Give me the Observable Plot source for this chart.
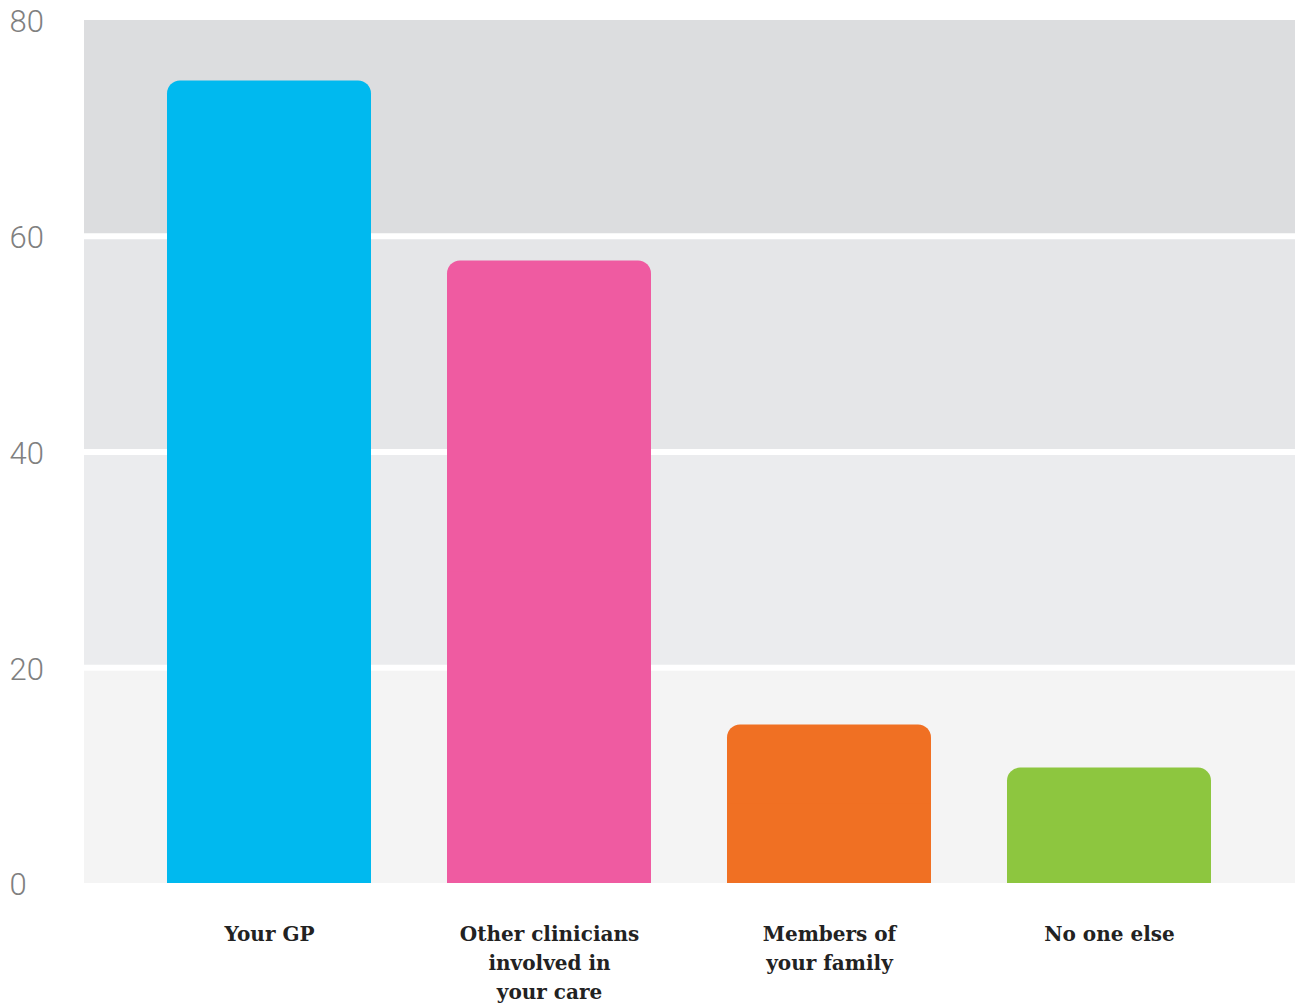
<!DOCTYPE html>
<html>
<head>
<meta charset="utf-8">
<script src="https://cdn.jsdelivr.net/npm/d3@7"></script>
<script src="https://cdn.jsdelivr.net/npm/@observablehq/plot@0.6"></script>
<style>
  html, body { margin: 0; padding: 0; background: #fff; }
</style>
</head>
<body>
<div id="chart"></div>
<script>
const categories = ["Your GP", "Other clinicians\ninvolved in\nyour care", "Members of\nyour family", "No one else"];
const values = [74.4, 57.7, 14.7, 10.7];
const barColors = ["#00b9ef", "#ef5ba1", "#f07023", "#8dc63f"];
const yTicks = [0, 20, 40, 60, 80];
const bandLows = [0, 20, 40, 60];
const bandHighs = [20, 40, 60, 80];
const bandColors = ["#f4f4f4", "#ebecee", "#e5e6e8", "#dcdddf"];

const bars = categories.map((c, i) => ({cat: c, value: values[i], color: barColors[i]}));
const bands = bandLows.map((lo, i) => ({lo, hi: bandHighs[i], color: bandColors[i]}));

const chart = Plot.plot({
  width: 1295,
  height: 1005,
  marginLeft: 84,
  marginRight: 0,
  marginTop: 20,
  marginBottom: 122,
  style: {background: "#fff", overflow: "visible"},
  x: {domain: categories, paddingInner: 0.271, paddingOuter: 0.295, range: [83.3, 1294.8], axis: null},
  y: {domain: [0, 80], axis: null},
  marks: [
    Plot.rect(bands, {y1: "lo", y2: "hi", fill: "color"}),
    Plot.ruleY(yTicks.filter(t => t > 0 && t < 80), {stroke: "#fff", strokeWidth: 6}),
    Plot.barY(bars, {x: "cat", y: "value", fill: "color", rx: 13}),
    Plot.barY(bars, {x: "cat", y1: 0, y2: d => d.value / 2, fill: "color"}),
    Plot.text(yTicks, {
      y: d => d, text: d => String(d),
      frameAnchor: "left", textAnchor: "start", dx: -75, dy: 2,
      fontSize: 31, fill: "#808080", fontFamily: "Roboto, Liberation Sans, sans-serif", fontWeight: 300
    }),
    Plot.text(bars, {
      x: "cat", y: 0, text: "cat", lineAnchor: "top", dy: 37, lineHeight: 1.45,
      fontSize: 20, fontWeight: "bold", fill: "#222",
      fontFamily: "DejaVu Serif, serif"
    })
  ]
});
document.getElementById("chart").append(chart);
</script>
</body>
</html>
